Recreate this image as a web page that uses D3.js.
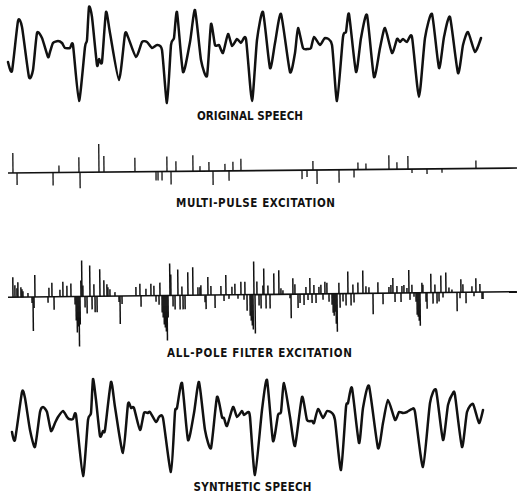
<!DOCTYPE html>
<html>
<head>
<meta charset="utf-8">
<script src="https://cdn.jsdelivr.net/npm/d3@7"></script>
<style>
  body { margin: 0; background: #fff; }
  svg { display: block; }
  .label { font-family: "DejaVu Sans Condensed", "Liberation Sans Narrow", sans-serif; font-weight: bold; font-size: 11.5px; fill: #111; }
</style>
</head>
<body>
<svg id="chart" width="517" height="495"></svg>
<script>
// time in samples, amplitude in arbitrary units
const originalSpeech = [[0,-7],[4,-16],[10,34],[14,28],[21,-22],[25,-15],[29,22],[34,17],[40,-2],[42,3],[45,12],[50,14],[54,12],[57,7],[62,7],[65,10],[71,-46],[77,8],[79,15],[81,48],[84,38],[89,-10],[91,-4],[94,-7],[98,43],[102,22],[111,-25],[117,21],[120,18],[128,-2],[134,13],[139,13],[144,7],[149,10],[154,5],[159,-48],[163,10],[166,17],[169,43],[175,-17],[182,13],[187,45],[193,-5],[199,-21],[203,31],[207,10],[211,10],[215,2],[220,21],[224,9],[229,16],[233,12],[238,16],[244,-46],[249,15],[255,43],[262,-13],[267,12],[273,41],[282,-17],[287,2],[290,27],[295,7],[300,6],[303,7],[306,18],[312,10],[317,17],[324,10],[329,-46],[335,18],[338,23],[341,41],[348,-17],[353,17],[359,40],[366,-22],[372,7],[377,27],[384,2],[389,16],[392,13],[395,16],[399,13],[404,18],[411,-42],[417,17],[424,41],[431,-13],[436,18],[442,38],[450,-18],[455,10],[460,23],[467,3],[473,17]];

const multiPulse = [[5,20],[9,-12],[45,-13],[51,7],[71,15],[72,-16],[91,28],[96,16],[127,14],[148,-9],[150,-9],[154,-9],[159,15],[163,-13],[168,10],[185,16],[192,5],[201,9],[205,-14],[217,7],[221,-10],[225,9],[233,12],[294,-9],[299,-7],[305,9],[309,-14],[331,-13],[346,-8],[350,7],[358,6],[381,14],[389,7],[400,13],[404,-4],[419,-5],[434,-4],[468,8]];

const allPole = [[5,20],[7,12],[9,9],[10,15],[13,10],[14,8],[15,6],[20,4],[24,-6],[25,-34],[26,-11],[27,22],[40,-6],[41,9],[44,14],[46,-13],[52,7],[55,15],[59,11],[63,13],[67,-8],[68,-24],[69,-36],[70,-30],[71,-50],[72,-28],[73,16],[74,36],[75,11],[77,-11],[79,-17],[82,31],[84,-13],[86,12],[87,-16],[89,-16],[92,27],[96,16],[99,12],[100,9],[102,7],[107,4],[111,-6],[112,-28],[114,-8],
  [128,9],[132,12],[133,-11],[138,7],[143,12],[146,10],[148,-6],[151,-9],[152,13],[154,-17],[155,-22],[156,-29],[157,-32],[158,-36],[159,-45],[160,-22],[162,32],[163,21],[165,-11],[167,-14],[170,26],[172,-14],[174,9],[175,-14],[177,-14],[180,23],[185,28],[190,8],[192,8],[193,10],[197,-7],[198,-14],[200,18],[203,9],[207,-13],[213,9],[216,-6],[218,20],[221,-4],[224,8],[227,11],[230,-4],[233,13],[236,-5],[237,13],[239,-16],[242,-21],[243,-26],[244,-31],[245,-35],[246,33],[247,-39],[249,13],
  [251,-11],[253,-14],[255,9],[256,26],[258,-14],[260,9],[262,-14],[266,21],[271,24],[273,6],[275,4],[282,-4],[283,-24],[285,16],[287,10],[290,-14],[292,-9],[296,-11],[298,7],[300,-6],[302,16],[304,-9],[306,9],[308,-9],[311,7],[313,9],[315,-6],[317,12],[319,11],[321,-8],[324,-11],[325,-19],[326,-22],[327,-18],[328,-30],[329,-38],[331,11],[332,-14],[335,-8],[338,-12],[340,22],[343,-12],[345,9],[346,-9],[350,11],[355,23],[358,7],[361,6],[365,-21],[370,11],[375,-11],
  [381,6],[383,8],[385,15],[387,-9],[389,7],[393,-9],[394,7],[396,8],[399,5],[401,23],[402,-7],[404,8],[406,-4],[408,-9],[409,-22],[410,-24],[411,-28],[412,-33],[414,10],[415,8],[418,-9],[419,-16],[423,19],[425,-11],[427,8],[429,-11],[431,-9],[433,17],[435,-5],[438,20],[441,5],[444,3],[449,-19],[452,-6],[453,13],[455,8],[458,-11],[464,6],[466,-4],[468,14],[472,8],[474,-7],[475,-7]];

const syntheticSpeech = [[4,-4],[7,-12],[14,36],[17,30],[22,-2],[27,-19],[32,16],[35,21],[39,16],[43,-3],[47,5],[50,11],[55,17],[59,11],[61,9],[65,9],[68,13],[75,-48],[80,8],[83,15],[85,49],[88,28],[92,-8],[95,-3],[97,-2],[103,46],[107,21],[115,-25],[120,24],[123,20],[126,20],[132,-2],[136,15],[140,15],[142,16],[148,6],[151,11],[155,10],[163,-44],[167,16],[169,20],[174,45],[180,-12],[186,15],[191,46],[197,-2],[203,-20],[209,31],[214,11],[216,10],[219,2],[225,21],[229,11],[234,17],[236,13],[240,16],[242,11],[247,-47],[254,18],[259,48],[265,-13],[270,13],[273,16],[276,45],[282,11],[287,-18],[294,31],[299,8],[304,7],[306,5],[310,19],[315,10],[319,17],[324,15],[327,8],[333,-42],[338,21],[340,25],[344,40],[351,-15],[355,20],[361,42],[370,-20],[375,5],[380,28],[387,8],[391,16],[395,15],[399,16],[404,19],[407,16],[415,-39],[422,25],[428,38],[435,-12],[440,23],[445,35],[447,33],[454,-19],[459,16],[465,24],[471,5],[475,18]];

const labels = ["ORIGINAL SPEECH", "MULTI-PULSE EXCITATION", "ALL-POLE FILTER EXCITATION", "SYNTHETIC SPEECH"];

const svg = d3.select("#chart");
const xScale = d3.scaleLinear().domain([0, 509]).range([8, 517]);

function drawWave(data, yTop) {
    const yScale = d3.scaleLinear().domain([-55, 55]).range([yTop + 110, yTop]);
    const line = d3.line()
        .x(d => xScale(d[0]))
        .y(d => yScale(d[1]))
        .curve(d3.curveCardinal.tension(0.4));
    svg.append("path")
        .datum(data)
        .attr("d", line)
        .attr("fill", "none")
        .attr("stroke", "#111")
        .attr("stroke-width", 2.5)
        .attr("stroke-linejoin", "round")
        .attr("stroke-linecap", "round");
}

// pulse trains hang off a slightly tilted zero line
function drawPulses(data, y0, tilt, width) {
    const yScale = d3.scaleLinear().domain([-55, 55]).range([y0 + 55, y0 - 55]);
    const g = svg.append("g")
        .attr("transform", "rotate(" + tilt + "," + xScale(0) + "," + y0 + ")");
    g.append("line")
        .attr("x1", xScale(0)).attr("x2", xScale(509))
        .attr("y1", yScale(0)).attr("y2", yScale(0))
        .attr("stroke", "#111")
        .attr("stroke-width", 1.6);
    g.selectAll(".pulse").data(data).enter().append("line")
        .attr("class", "pulse")
        .attr("x1", d => xScale(d[0])).attr("x2", d => xScale(d[0]))
        .attr("y1", yScale(0))
        .attr("y2", d => yScale(d[1]))
        .attr("stroke", "#111")
        .attr("stroke-width", width);
}

drawWave(originalSpeech, 0);
drawPulses(multiPulse, 173, -0.56, 1.3);
drawPulses(allPole, 297.3, -0.63, 1.5);
drawWave(syntheticSpeech, 373);

// captions: [centre x, baseline, width]
const labelPos = [[250, 120, 106], [255.5, 207, 159], [259.5, 357, 185], [252.5, 491, 118]];
svg.selectAll(".label").data(labels).enter().append("text")
    .attr("class", "label")
    .attr("x", (d, i) => labelPos[i][0] - labelPos[i][2] / 2)
    .attr("y", (d, i) => labelPos[i][1])
    .attr("textLength", (d, i) => labelPos[i][2])
    .attr("lengthAdjust", "spacing")
    .text(d => d);
</script>
</body>
</html>
